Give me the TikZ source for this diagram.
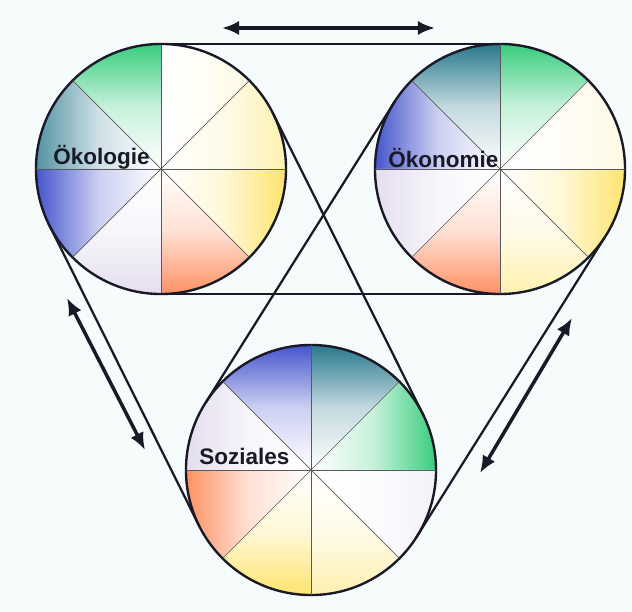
\documentclass[tikz,border=0pt]{standalone}
\usepackage{fontspec}
\setsansfont{Liberation Sans}
\usepackage{tikz}
\usetikzlibrary{arrows.meta,backgrounds}

\definecolor{bgcol}{RGB}{246,251,251}
\definecolor{ggreen}{RGB}{55,205,125}
\definecolor{gteal}{RGB}{40,120,140}
\definecolor{gblue}{RGB}{70,85,205}
\definecolor{gorange}{RGB}{255,145,100}
\definecolor{gyellow}{RGB}{255,228,110}
\definecolor{glav}{RGB}{228,222,238}
\definecolor{ink}{RGB}{25,25,40}
\colorlet{gtealL}{gteal!80!white}
\colorlet{gyellowM}{gyellow!55!white}
\colorlet{gyellowL}{gyellow!20!white}
\colorlet{glavL}{glav!40!white}

\begin{document}
\begin{tikzpicture}[
    x=0.025cm, y=0.025cm,
    wheel/.style={circle, draw=ink, line width=1.7pt, minimum size=6.25cm, inner sep=0pt, outer sep=0pt},
    spoke/.style={draw=black!65, line width=0.5pt},
    belt/.style={draw=ink, line width=1.6pt},
    arrow/.style={{Latex[length=4.3mm,width=3.6mm]}-{Latex[length=4.3mm,width=3.6mm]}, draw=ink, line width=2.5pt},
    title/.style={font=\sffamily\bfseries\fontsize{16}{16}\selectfont, text=ink, anchor=west, inner sep=0pt},
    fade top/.style={top color=#1, bottom color=white, middle color=#1!28!white},
    fade bottom/.style={bottom color=#1, top color=white, middle color=#1!28!white},
    fade left/.style={left color=#1, right color=white, middle color=#1!28!white},
    fade right/.style={right color=#1, left color=white, middle color=#1!28!white}
]
    % Kreise
    \node[wheel] (oekol) at (161,443) {};
    \node[wheel] (oekon) at (500,443) {};
    \node[wheel] (soz) at (311,142) {};

    % Sektoren
    \begin{scope}[on background layer]
        \fill[bgcol] (0,0) rectangle (632,612);
        \foreach \n/\a/\d/\c in {
            oekol/90/top/ggreen, oekol/135/left/gtealL, oekol/180/left/gblue, oekol/225/bottom/glav,
            oekol/270/bottom/gorange, oekol/315/right/gyellow, oekol/0/right/gyellowM, oekol/45/right/gyellowL,
            oekon/90/top/gteal, oekon/45/top/ggreen, oekon/135/left/gblue, oekon/180/left/glav,
            oekon/225/bottom/gorange, oekon/270/bottom/gyellowM, oekon/315/right/gyellow, oekon/0/right/gyellowL,
            soz/90/top/gblue, soz/45/top/gteal, soz/0/right/ggreen, soz/315/right/glavL,
            soz/270/bottom/gyellowM, soz/225/bottom/gyellow, soz/180/left/gorange, soz/135/left/glav}
            \shade[fade \d=\c] (\n.center) -- ++(\a:3.125cm) arc[start angle=\a, end angle=\a+45, radius=3.125cm] -- cycle;
    \end{scope}

    % Speichen
    \foreach \n in {oekol,oekon,soz}
        \foreach \a in {0,45,...,315}
            \draw[spoke] (\n.center) -- (\n.\a);

    % Riemen
    \draw[belt] (oekol.north) -- (oekon.north);
    \draw[belt] (oekol.south) -- (oekon.south);
    \draw[belt] (oekol.26.5) -- (soz.26.5);
    \draw[belt] (oekol.206.5) -- (soz.206.5);
    \draw[belt] (oekon.147.9) -- (soz.147.9);
    \draw[belt] (oekon.327.9) -- (soz.327.9);

    % Pfeile
    \coordinate (topL) at (222,584);
    \coordinate (topR) at (435,584);
    \coordinate (leftA) at (67,314);
    \coordinate (leftB) at (145,162);
    \coordinate (rightA) at (572,294);
    \coordinate (rightB) at (480,139);
    \draw[arrow] (topL) -- (topR);
    \draw[arrow] (leftA) -- (leftB);
    \draw[arrow] (rightA) -- (rightB);

    % Beschriftung
    \node[title] (tOekol) at (53,455) {Ökologie};
    \node[title] (tOekon) at (388,454) {Ökonomie};
    \node[title] (tSoz) at (199,156) {Soziales};
\end{tikzpicture}
\end{document}
